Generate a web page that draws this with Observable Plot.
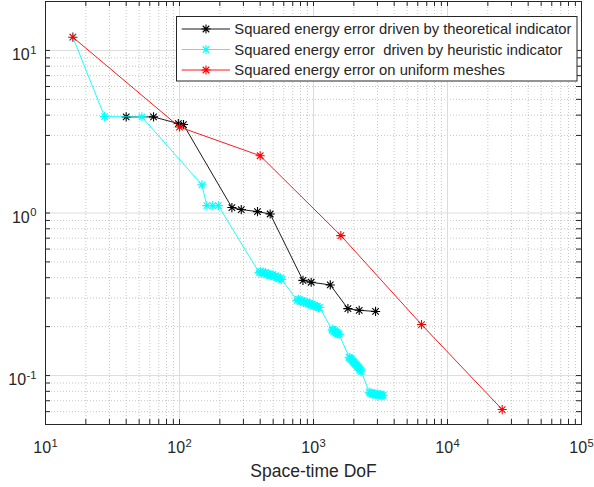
<!DOCTYPE html>
<html><head><meta charset="utf-8">
<script src="https://cdn.jsdelivr.net/npm/d3@7"></script>
<script src="https://cdn.jsdelivr.net/npm/@observablehq/plot@0.6"></script>
<style>
html,body{margin:0;padding:0;background:#fff;}
#wrap{position:relative;width:594px;height:487px;font-family:"Liberation Sans",Arial,sans-serif;}
#legend{position:absolute;left:0;top:0;pointer-events:none;}
</style></head>
<body><div id="wrap"></div>
<script>
// ---- data ----
const theoDof = [40, 64, 98, 107, 246, 289, 382, 475, 834, 961, 1334, 1806, 2193, 2904];
const theoErr = [3.9, 3.9, 3.55, 3.5, 1.08, 1.05, 1.02, 0.986, 0.385, 0.375, 0.361, 0.258, 0.252, 0.248];

const heurDof = [16, 27.6, 52.4, 147, 160, 177, 195,
  393, 402, 411, 420, 429, 438, 447, 457, 467, 477, 488, 498, 509, 520, 531, 543, 555, 567, 579,
  755, 772, 789, 806, 824, 842, 860, 879, 898, 917, 937, 957, 978, 999, 1021, 1043, 1066, 1089, 1113,
  1379, 1397, 1415, 1433, 1452, 1470, 1489, 1509, 1529, 1555,
  1847, 1871, 1895, 1919, 1944, 1969, 1995, 2021, 2047, 2074, 2101, 2128, 2156, 2184, 2212, 2241, 2270,
  2604, 2649, 2695, 2742, 2789, 2838, 2887, 2937, 2988, 3040, 3093, 3147, 3201, 3257, 3313];
const heurErr = [12.06, 3.92, 3.9, 1.49, 1.11, 1.11, 1.11,
  0.430, 0.436, 0.428, 0.433, 0.425, 0.430, 0.419, 0.424, 0.419, 0.414, 0.412, 0.416, 0.407, 0.410, 0.401, 0.404, 0.395, 0.398, 0.390,
  0.290, 0.294, 0.290, 0.286, 0.288, 0.282, 0.285, 0.280, 0.282, 0.276, 0.278, 0.273, 0.274, 0.268, 0.270, 0.266, 0.266, 0.262, 0.262,
  0.190, 0.193, 0.187, 0.189, 0.187, 0.183, 0.184, 0.181, 0.182, 0.179,
  0.1295, 0.1280, 0.1259, 0.1265, 0.1241, 0.1225, 0.1207, 0.1195, 0.1173, 0.1180, 0.1156, 0.1140, 0.1124, 0.1110, 0.1093, 0.1080, 0.1062,
  0.0790, 0.0780, 0.0779, 0.0772, 0.0768, 0.0775, 0.0768, 0.0762, 0.0768, 0.0757, 0.0757, 0.0764, 0.0757, 0.0752, 0.0757];

const unifDof = [16, 100, 400, 1600, 6400, 25600];
const unifErr = [12.06, 3.38, 2.25, 0.726, 0.206, 0.0618];

const seriesNames = [
  "Squared energy error driven by theoretical indicator",
  "Squared energy error  driven by heuristic indicator",
  "Squared energy error on uniform meshes"
];
const seriesColors = ["#000000", "#00ffff", "#ff0000"];

const xLabel = "Space-time DoF";
const xMajor = [10, 100, 1000, 10000, 100000];
const yMajor = [0.1, 1, 10];
const xMinor = [1, 2, 3, 4].flatMap(e => [2, 3, 4, 5, 6, 7, 8, 9].map(m => m * 10 ** e));
const yMinor = [...[5, 6, 7, 8, 9].map(m => m / 100), ...[2, 3, 4, 5, 6, 7, 8, 9].map(m => m / 10),
  ...[2, 3, 4, 5, 6, 7, 8, 9]];

// ---- build ----
const toRows = (xs, ys) => xs.map((d, i) => ({dof: d, err: ys[i]}));
const theo = toRows(theoDof, theoErr);
const heur = toRows(heurDof, heurErr);
const unif = toRows(unifDof, unifErr);

const asterisk = {
  draw(ctx, size) {
    const r = Math.sqrt(size / Math.PI), d = r * Math.SQRT1_2;
    ctx.moveTo(-r, 0); ctx.lineTo(r, 0);
    ctx.moveTo(0, -r); ctx.lineTo(0, r);
    ctx.moveTo(-d, -d); ctx.lineTo(d, d);
    ctx.moveTo(-d, d); ctx.lineTo(d, -d);
  }
};

const W = 594, H = 487, mt = 1, mb = 63, ml = 45, mr = 13;
const fh = H - mt - mb, fw = W - ml - mr, tk = 5;
const axisColor = "#262626";
const supFmt = d => `10^${Math.round(Math.log10(d))}`;
const xAll = [...xMajor, ...xMinor];
const yAll = [...yMajor, ...yMinor];

const series = [theo, heur, unif];
const seriesMarks = series.flatMap((rows, i) => [
  Plot.line(rows, {x: "dof", y: "err", stroke: seriesColors[i], strokeWidth: 0.9}),
  Plot.dot(rows, {x: "dof", y: "err", symbol: asterisk, r: 4.6, stroke: seriesColors[i], strokeWidth: 1.1, fill: "none"})
]);

const svg = Plot.plot({
  width: W, height: H,
  marginTop: mt, marginBottom: mb, marginLeft: ml, marginRight: mr,
  x: {type: "log", domain: [10, 1e5], axis: null},
  y: {type: "log", domain: [0.05, 20], axis: null},
  style: {fontFamily: '"Liberation Sans", Arial, sans-serif', fontSize: "16px", color: axisColor, background: "#fff", overflow: "visible"},
  marks: [
    Plot.ruleX(xMinor, {stroke: "#b8b8b8", strokeDasharray: "1,2", strokeWidth: 0.8}),
    Plot.ruleY(yMinor.filter(v => v > 0.05), {stroke: "#b8b8b8", strokeDasharray: "1,2", strokeWidth: 0.8}),
    Plot.ruleX(xMajor.slice(1, -1), {stroke: "#dcdcdc"}),
    Plot.ruleY(yMajor, {stroke: "#dcdcdc"}),
    ...seriesMarks,
    Plot.frame({stroke: axisColor}),
    Plot.ruleX(xAll, {insetTop: fh - tk, stroke: axisColor}),
    Plot.ruleX(xAll, {insetBottom: fh - tk, stroke: axisColor}),
    Plot.ruleY(yAll, {insetRight: fw - tk, stroke: axisColor}),
    Plot.ruleY(yAll, {insetLeft: fw - tk, stroke: axisColor}),
    Plot.text(xMajor, {x: d => d, frameAnchor: "bottom", lineAnchor: "bottom", dy: 28.7, text: supFmt, fill: axisColor}),
    Plot.text(yMajor, {y: d => d, frameAnchor: "left", textAnchor: "end", lineAnchor: "bottom", dx: -9, dy: 9.8, text: supFmt, fill: axisColor}),
    Plot.text([xLabel], {frameAnchor: "bottom", lineAnchor: "bottom", dy: 52.5, fontSize: 17.5, text: d => d, fill: axisColor})
  ]
});

// superscripts for the log tick labels
d3.select(svg).selectAll("text").each(function () {
  const m = /^10\^(-?\d+)$/.exec(this.textContent);
  if (!m) return;
  this.textContent = "10";
  const ts = document.createElementNS("http://www.w3.org/2000/svg", "tspan");
  ts.setAttribute("dy", "-6.7");
  ts.setAttribute("dx", "0.5");
  ts.setAttribute("font-size", "11.2");
  ts.textContent = m[1];
  this.appendChild(ts);
});

const wrap = document.getElementById("wrap");
wrap.appendChild(svg);

// legend (inside the axes, top right)
const lg = d3.select(wrap).append("svg").attr("id", "legend").attr("width", W).attr("height", H)
  .style("font-family", '"Liberation Sans", Arial, sans-serif');
lg.append("rect").attr("x", 176.5).attr("y", 16.5).attr("width", 400.5).attr("height", 64.5)
  .attr("fill", "#fff").attr("stroke", axisColor).attr("stroke-width", 1);
const rowY = [29, 49.5, 70];
const starPath = (cx, cy, r) => {
  const d = r * Math.SQRT1_2;
  return `M${cx - r},${cy}H${cx + r}M${cx},${cy - r}V${cy + r}M${cx - d},${cy - d}L${cx + d},${cy + d}M${cx - d},${cy + d}L${cx + d},${cy - d}`;
};
seriesNames.forEach((name, i) => {
  const y = rowY[i];
  lg.append("line").attr("x1", 181.7).attr("x2", 230).attr("y1", y).attr("y2", y)
    .attr("stroke", seriesColors[i]).attr("stroke-width", 0.9);
  lg.append("path").attr("d", starPath(206, y, 4.6)).attr("stroke", seriesColors[i]).attr("stroke-width", 1.1).attr("fill", "none");
  lg.append("text").attr("x", 234.3).attr("y", y + 5.2).attr("font-size", 14.8).attr("fill", axisColor)
    .style("white-space", "pre").attr("xml:space", "preserve").text(name);
});
</script>
</body></html>
